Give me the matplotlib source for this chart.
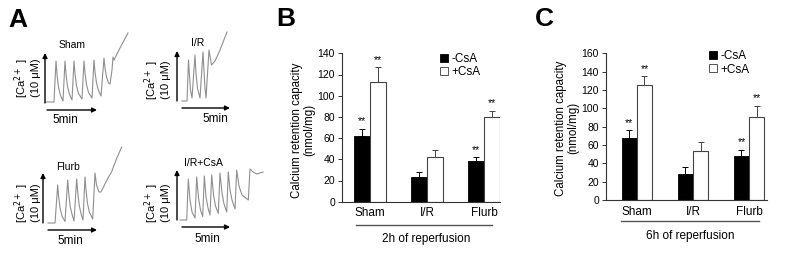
import matplotlib
matplotlib.use("Agg")
import matplotlib.pyplot as plt
from matplotlib.patches import Patch
import matplotlib.transforms as mtransforms
import numpy as np

plt.rcParams['font.family'] = ['Liberation Sans', 'DejaVu Sans']

W, H = 788, 258

# ---------------- Panel A trace data (time in min, [Ca2+] in arbitrary units) -------------
sham_t = [-0.1, 0.7, 0.9, 1.0, 1.15, 1.35, 1.6, 1.8, 1.9, 2.05, 2.25, 2.5, 2.7, 2.8, 2.95,
          3.15, 3.5, 3.7, 3.8, 3.95, 4.15, 4.5, 4.7, 4.8, 4.95, 5.15, 5.4, 5.7, 5.8, 5.95,
          6.15, 6.3, 6.5, 6.6, 6.7, 7.3, 8.1]
sham_y = [0.2, 0.2, 8.4, 5.8, 3.2, 1.5, 0.4, 8.4, 5.8, 3.3, 1.7, 0.6, 8.4, 5.9, 3.5,
          1.9, 0.8, 8.4, 6.0, 3.7, 2.1, 1.0, 8.6, 6.2, 4.0, 2.5, 1.4, 9.0, 7.0, 5.2,
          4.0, 3.8, 6.6, 9.2, 8.6, 11.0, 14.0]

ir_t = [0, 0.5, 0.65, 0.75, 0.85, 1.0, 1.3, 1.4, 1.55, 1.8, 2.1, 2.2, 2.3, 2.4, 2.7,
        2.95, 3.3, 3.8, 4.5]
ir_y = [0, 0, 8.2, 5.0, 2.2, 0.6, 9.2, 5.5, 2.5, 0.6, 9.8, 6.0, 2.6, 0.6, 10.2,
        7.2, 8.0, 10.2, 13.8]

flurb_t = [0, 0.7, 0.97, 1.07, 1.22, 1.42, 1.7, 1.97, 2.07, 2.22, 2.42, 2.6, 2.87, 2.97,
           3.12, 3.3, 3.5, 3.7, 3.8, 3.95, 4.15, 4.47, 4.7, 4.85, 5.1, 5.3, 5.6, 6.0,
           6.37, 6.8, 7.37]
flurb_y = [0, 0, 7.6, 5.2, 2.8, 1.3, 0.3, 8.6, 6.0, 3.3, 1.6, 0.4, 8.8, 6.2,
           3.5, 1.9, 0.6, 9.2, 6.6, 3.9, 2.1, 0.8, 10.0, 7.6, 6.2, 6.2, 7.4, 9.0,
           10.26, 12.6, 15.2]

ircsa_t = [-0.2, 0.47, 0.63, 0.8, 1.0, 1.3, 1.47, 1.65, 1.85, 2.07, 2.23, 2.4, 2.6, 2.8, 2.97,
           3.15, 3.35, 3.63, 3.8, 4.0, 4.2, 4.47, 4.63, 4.8, 5.0, 5.3, 5.47, 5.7, 6.0, 6.63,
           6.8, 7.1, 7.5, 8.1]
ircsa_y = [0, 0, 8.2, 4.0, 1.6, 0.4, 8.6, 4.4, 2.0, 0.7, 8.8, 4.6, 2.4, 1.0, 9.0,
           5.0, 2.8, 1.3, 9.4, 5.4, 3.2, 1.6, 9.6, 6.0, 4.0, 2.2, 10.0, 6.8, 5.0, 4.0,
           10.2, 9.6, 9.2, 9.6]

trace_titles = ["Sham", "I/R", "Flurb", "I/R+CsA"]

# ---------------- Panel B / C bar data ----------------
groups = ["Sham", "I/R", "Flurb"]
series = ["-CsA", "+CsA"]
b_minus = [62, 23, 38]
b_minus_err = [7, 5, 4]
b_plus = [113, 42, 80]
b_plus_err = [14, 7, 6]
b_minus_sig = ["**", "", "**"]
b_plus_sig = ["**", "", "**"]

c_minus = [68, 28, 48]
c_minus_err = [8, 8, 7]
c_plus = [125, 53, 91]
c_plus_err = [10, 10, 12]
c_minus_sig = ["**", "", "**"]
c_plus_sig = ["**", "", "**"]

fig = plt.figure(figsize=(W / 100, H / 100), dpi=100)


def px_axes(x0, y0, x1, y1):
    return fig.add_axes([x0 / W, 1 - y1 / H, (x1 - x0) / W, (y1 - y0) / H])


def ftext(x, y, s, **kw):
    kw.setdefault('ha', 'center')
    kw.setdefault('va', 'center')
    fig.text(x / W, 1 - y / H, s, **kw)


# ---------------- Panel A ----------------
ftext(18, 20, "A", fontsize=19, fontweight='bold')

trace_specs = [
    dict(o=(47, 103), ya=-0.2, xl=5.0, t=sham_t, y=sham_y, title=(72, 45), five=(65, 120), yl=(27, 78)),
    dict(o=(182, 101), ya=-0.5, xl=4.8, t=ir_t, y=ir_y, title=(198, 43), five=(215, 119), yl=(157, 80)),
    dict(o=(48, 223), ya=-0.5, xl=4.9, t=flurb_t, y=flurb_y, title=(68, 167), five=(70, 241), yl=(27, 203)),
    dict(o=(182, 220), ya=-0.5, xl=4.8, t=ircsa_t, y=ircsa_y, title=(203, 163), five=(207, 239), yl=(157, 203)),
]

for spec, title in zip(trace_specs, trace_titles):
    ox, oy = spec['o']
    ax = px_axes(ox - 10, oy - 80, ox + 90, oy + 10)
    ax.set_xlim(-1, 9)
    ax.set_ylim(-2, 16)
    ax.axis('off')
    ax.plot(spec['t'], spec['y'], color='#8f8f8f', lw=0.8, clip_on=False)
    ax.annotate('', xy=(spec['ya'], 10), xytext=(spec['ya'], 0),
                arrowprops=dict(arrowstyle='-|>', color='black', lw=1.0, mutation_scale=7,
                                shrinkA=0, shrinkB=0))
    ax.annotate('', xy=(spec['xl'], -1.4), xytext=(0, -1.4),
                arrowprops=dict(arrowstyle='-|>', color='black', lw=1.0, mutation_scale=7,
                                shrinkA=0, shrinkB=0))
    ftext(*spec['title'], title, fontsize=7.5)
    ftext(*spec['five'], "5min", fontsize=8.5)
    ftext(*spec['yl'], "[Ca$^{2+}$ ]\n(10 \u03bcM)", fontsize=8, rotation=90,
          linespacing=1.0)


# ---------------- Bar panels ----------------
def bar_panel(box, ymax, ystep, minus, minus_err, plus, plus_err, msig, psig,
              label, label_pos, ylab_pos, xlim, width, line_x, line_y, foot, foot_pos, leg_anchor):
    ax = px_axes(*box)
    x = np.arange(len(groups))
    ax.bar(x - width / 2, minus, width, color='black', edgecolor='black', lw=0.6, zorder=2)
    ax.bar(x + width / 2, plus, width, color='white', edgecolor='#444444', lw=0.8, zorder=2)
    ax.errorbar(x - width / 2, minus, yerr=[np.zeros(3), minus_err], fmt='none',
                ecolor='black', elinewidth=0.7, capsize=2.5, capthick=0.7, zorder=3)
    ax.errorbar(x + width / 2, plus, yerr=[np.zeros(3), plus_err], fmt='none',
                ecolor='#444444', elinewidth=0.7, capsize=2.5, capthick=0.7, zorder=3)
    for xi, v, e, s in zip(x - width / 2, minus, minus_err, msig):
        if s:
            ax.annotate(s, (xi, v + e), xytext=(0, 1.5), textcoords='offset points',
                        ha='center', va='bottom', fontsize=7.5)
    for xi, v, e, s in zip(x + width / 2, plus, plus_err, psig):
        if s:
            ax.annotate(s, (xi, v + e), xytext=(0, 1.5), textcoords='offset points',
                        ha='center', va='bottom', fontsize=7.5)
    ax.set_xlim(*xlim)
    ax.set_ylim(0, ymax)
    ax.set_yticks(np.arange(0, ymax + 1, ystep))
    ax.set_xticks(x)
    ax.set_xticklabels(groups, fontsize=8.5)
    ax.tick_params(axis='x', length=0, pad=4)
    ax.tick_params(axis='y', length=3, width=0.7, labelsize=7.5, pad=2, color='#333333')
    for sp in ['top', 'right']:
        ax.spines[sp].set_visible(False)
    for sp in ['left', 'bottom']:
        ax.spines[sp].set_linewidth(0.8)
        ax.spines[sp].set_color('#333333')
    handles = [Patch(facecolor='black', edgecolor='black', lw=0.6),
               Patch(facecolor='white', edgecolor='#555555', lw=0.7)]
    ax.legend(handles, series, loc='upper left', bbox_to_anchor=leg_anchor, frameon=False,
              fontsize=8.5, handlelength=0.65, handleheight=0.65, handletextpad=0.35,
              labelspacing=0.1, borderpad=0, borderaxespad=0)
    trans = mtransforms.blended_transform_factory(ax.transData, ax.transAxes)
    ax.plot(line_x, line_y, transform=trans, color='#555555', lw=1.0, clip_on=False)
    ftext(*label_pos, label, fontsize=19, fontweight='bold')
    ftext(*ylab_pos, "Calcium retention capacity\n(nmol/mg)", fontsize=8.3, rotation=90,
          linespacing=1.0)
    ftext(*foot_pos, foot, fontsize=8.5)
    return ax


bar_panel((342, 53.3, 500, 201.7), 140, 20, b_minus, b_minus_err, b_plus, b_plus_err,
          b_minus_sig, b_plus_sig, "B", (286, 19), (303, 130), (-0.49, 2.28), 0.28,
          [-0.25, 2.14], [-0.158, -0.158], "2h of reperfusion", (426, 239), (0.62, 1.0))

bar_panel((606, 53.3, 767, 200), 160, 20, c_minus, c_minus_err, c_plus, c_plus_err,
          c_minus_sig, c_plus_sig, "C", (544, 19), (567, 128), (-0.55, 2.32), 0.27,
          [-0.29, 2.17], [-0.143, -0.143], "6h of reperfusion", (690, 236), (0.64, 1.02))

fig.savefig("out.png", dpi=100)
